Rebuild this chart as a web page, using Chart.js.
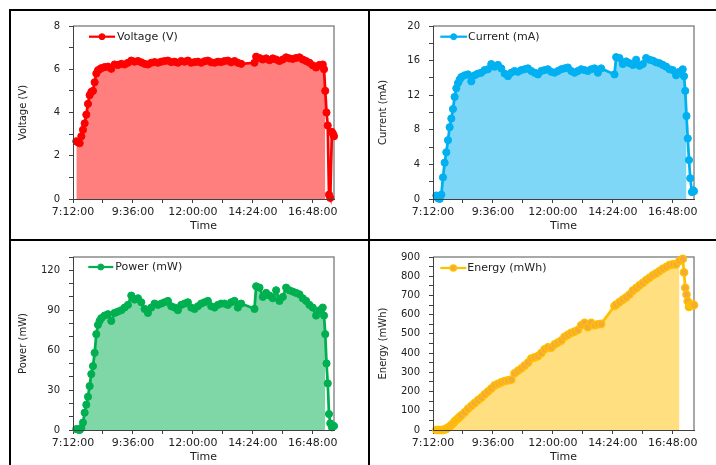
<!DOCTYPE html>
<html><head><meta charset="utf-8">
<script src="https://cdn.jsdelivr.net/npm/chart.js@4.4.1/dist/chart.umd.min.js"></script>
<style>
html,body{margin:0;padding:0;background:#fff;width:716px;height:465px;overflow:hidden;position:relative}
canvas{position:absolute}
.ln{position:absolute;background:#000;z-index:5}
</style></head><body>
<div class="ln" style="left:9px;top:9px;width:707px;height:2px"></div>
<div class="ln" style="left:9px;top:9px;width:2px;height:456px"></div>
<div class="ln" style="left:368px;top:9px;width:2px;height:456px"></div>
<div class="ln" style="left:9px;top:239px;width:707px;height:2px"></div>
<canvas id="cV" width="357" height="228" style="left:11px;top:11px"></canvas>
<canvas id="cI" width="357" height="228" style="left:371px;top:11px"></canvas>
<canvas id="cP" width="357" height="228" style="left:11px;top:242px"></canvas>
<canvas id="cE" width="357" height="228" style="left:371px;top:242px"></canvas>
<script>
// ---- data ----
const times = [
 '7:20','7:24','7:28','7:32','7:36','7:40','7:44','7:48','7:52','7:56','8:00','8:04','8:08','8:12','8:16','8:20',
 '8:28','8:36','8:44','8:52','9:00','9:08','9:16','9:24','9:32','9:40','9:48','9:56','10:04','10:12','10:20','10:28','10:36','10:44','10:52','11:00','11:08','11:16','11:24','11:32','11:40','11:48','11:56','12:04','12:12','12:20','12:28','12:36','12:44','12:52','13:00','13:08','13:16','13:24','13:32','13:40','13:48','13:56',
 '14:28','14:32','14:40','14:48','14:56','15:04','15:12','15:20','15:28','15:36','15:44','15:52','16:00','16:08','16:16','16:24','16:32','16:40','16:48','16:56','17:04','17:12',
 '17:15','17:18','17:21','17:24','17:27','17:30','17:34','17:37','17:39'
];
const voltage = [
 2.67,2.62,2.58,2.9,3.2,3.5,3.9,4.4,4.8,4.95,5.0,5.4,5.8,5.95,6.0,6.05,
 6.1,6.12,6.02,6.22,6.2,6.25,6.22,6.3,6.4,6.35,6.38,6.32,6.25,6.22,6.3,6.33,6.3,6.35,6.38,6.4,6.33,6.35,6.3,6.38,6.35,6.4,6.3,6.33,6.35,6.3,6.37,6.4,6.32,6.3,6.35,6.33,6.38,6.4,6.32,6.38,6.3,6.25,
 6.3,6.58,6.52,6.45,6.5,6.42,6.5,6.45,6.38,6.45,6.55,6.5,6.48,6.52,6.55,6.45,6.38,6.3,6.18,6.08,6.2,6.22,
 6.0,5.0,4.0,3.4,0.2,0.05,3.1,3.0,2.9
];
const current = [
 0.4,0.1,0.0,0.5,2.5,4.2,5.4,6.8,8.3,9.3,10.4,11.8,12.8,13.4,13.8,14.1,
 14.3,14.4,13.6,14.3,14.5,14.6,14.9,15.0,15.6,15.3,15.5,15.1,14.5,14.2,14.6,14.8,14.7,14.9,15.0,15.1,14.8,14.6,14.4,14.8,14.9,15.0,14.7,14.6,14.8,15.0,15.1,15.2,14.8,14.6,14.8,15.0,14.9,14.8,15.0,15.1,14.6,15.1,
 14.4,16.4,16.3,15.6,15.9,15.7,15.5,16.1,15.4,15.6,16.3,16.1,16.0,15.8,15.7,15.5,15.3,15.0,14.9,14.3,14.7,15.0,
 14.2,12.5,9.6,7.0,4.5,2.4,0.8,1.0,0.9
];
const power = [
 0.7,0.3,0,1.5,5.6,13,19,25,33,42,48,58,72,79,82,84,
 86,87,82,88,89,90,92,94,101,98,99,96,91,88,92,95,94,95,96,97,93,92,90,94,95,96,92,91,93,95,96,97,93,92,94,95,95,94,96,97,92,95,
 91,108,107,100,103,101,99,105,97,100,107,105,104,103,102,99,97,94,92,86,90,92,
 86,72,50,35,12,5,2,3,3
];
const energy = [
 0,0,0,0,0,3,6,12,18,26,34,45,53,60,68,76,
 92,110,125,140,155,168,185,200,215,232,240,248,255,258,262,295,308,320,335,350,372,378,384,400,420,430,428,445,455,465,485,495,505,512,520,545,558,535,558,545,550,552,
 645,652,665,678,690,705,725,738,752,765,780,792,805,815,826,838,848,858,862,862,880,890,
 820,740,705,670,640,650,648,652,650
];
// last reading included in each shaded area
const voltageAreaEnd = 81, currentAreaEnd = 82, powerAreaEnd = 81, energyAreaEnd = 78;
const timeTickLabels = ['7:12:00','9:36:00','12:00:00','14:24:00','16:48:00'];
const timeAxisEnd = '17:39';
const voltageTicks = [0,2,4,6,8];
const currentTicks = [0,4,8,12,16,20];
const powerTicks = [0,30,60,90,120];
const energyTicks = [0,100,200,300,400,500,600,700,800,900];

// ---- helpers ----
const toMin = s => { const p = s.split(':').map(Number); return p[0]*60 + p[1]; };
const fmtTime = v => { const h = Math.floor(v/60), m = Math.round(v - h*60); return h + ':' + String(m).padStart(2,'0') + ':00'; };

Chart.defaults.font.family = '"DejaVu Sans", sans-serif';
Chart.defaults.color = '#222222';

const plotFrame = {
  id: 'plotFrame',
  beforeDatasetsDraw(chart) {
    const {ctx, chartArea: a} = chart;
    ctx.save();
    ctx.strokeStyle = '#8c8c8c'; ctx.lineWidth = 1.5;
    ctx.beginPath(); ctx.moveTo(a.left, a.top); ctx.lineTo(a.right, a.top); ctx.lineTo(a.right, a.bottom); ctx.stroke();
    ctx.restore();
  }
};
const insideLegend = {
  id: 'insideLegend',
  afterDatasetsDraw(chart, args, o) {
    const {ctx, chartArea: a} = chart;
    const ds = chart.data.datasets[0];
    const y = a.top + o.dy, x1 = a.left + o.x1, x2 = a.left + o.x2;
    ctx.save();
    ctx.strokeStyle = ds.borderColor; ctx.lineWidth = 2.25;
    ctx.beginPath(); ctx.moveTo(x1, y); ctx.lineTo(x2, y); ctx.stroke();
    ctx.beginPath(); ctx.arc((x1 + x2)/2, y, 3, 0, Math.PI*2);
    ctx.fillStyle = ds.pointBackgroundColor; ctx.fill();
    ctx.lineWidth = ds.pointBorderWidth; ctx.strokeStyle = ds.pointBorderColor; ctx.stroke();
    ctx.font = '11px "DejaVu Sans"'; ctx.fillStyle = '#222222'; ctx.textBaseline = 'middle'; ctx.textAlign = 'left';
    ctx.fillText(ds.label, x2 + o.gap, y);
    ctx.restore();
  }
};

function makeChart(id, c) {
  const pts = c.values.map((v, i) => ({x: toMin(times[i]), y: v}));
  const axisCommon = {
    grid: {display: true, drawOnChartArea: false, drawTicks: true, tickLength: 4, tickColor: '#404040'},
    border: {display: true, color: '#404040', width: 1, z: 1}
  };
  return new Chart(document.getElementById(id), {
    type: 'line',
    data: {datasets: [
      {label: c.label, data: pts, borderColor: c.color, borderWidth: 2.75, pointRadius: 3.6,
       pointBackgroundColor: c.pointFill, pointBorderColor: c.color, pointBorderWidth: c.pbw,
       fill: false, tension: 0, clip: 8},
      {label: 'area', data: pts.slice(0, c.areaEnd + 1), borderColor: 'rgba(0,0,0,0)', borderWidth: 0,
       pointRadius: 0, backgroundColor: c.area, fill: 'origin', tension: 0}
    ]},
    options: {
      responsive: false, animation: false, devicePixelRatio: 1,
      events: [],
      layout: {padding: {left: 0, top: 9, right: 34, bottom: 0}},
      plugins: {legend: {display: false}, tooltip: {enabled: false}, insideLegend: c.legend},
      scales: {
        x: Object.assign({}, axisCommon, {
          type: 'linear', min: toMin(timeTickLabels[0]), max: toMin(timeAxisEnd),
          afterFit: s => { s.height = 40; },
          ticks: {stepSize: 72, autoSkip: false, maxRotation: 0, minRotation: 0, includeBounds: false, padding: 3,
                  font: {size: 11}, callback: v => { const s = fmtTime(v); return timeTickLabels.includes(s) ? s : ''; }},
          title: {display: true, text: 'Time', font: {size: 11}, padding: {top: 0, bottom: 6.4}}
        }),
        y: Object.assign({}, axisCommon, {
          min: 0, max: c.yMax,
          afterFit: s => { s.width = 62; },
          ticks: {stepSize: c.yStep, autoSkip: false, padding: 9, font: {size: 10},
                  callback: v => c.yLabels.includes(v) ? String(v) : ''},
          title: {display: true, text: c.yTitle, font: {size: 10}, padding: {top: 6, bottom: 0}}
        })
      }
    },
    plugins: [plotFrame, insideLegend]
  });
}

makeChart('cV', {values: voltage, areaEnd: voltageAreaEnd, label: 'Voltage (V)', yTitle: 'Voltage (V)',
  color: '#FF0000', pointFill: '#FF0000', pbw: 1, area: 'rgba(255,0,0,0.5)', yMax: 8, yStep: 1, yLabels: voltageTicks,
  legend: {x1: 16, x2: 42, dy: 10.7, gap: 2}});
makeChart('cI', {values: current, areaEnd: currentAreaEnd, label: 'Current (mA)', yTitle: 'Current (mA)',
  color: '#00B0F0', pointFill: '#00B0F0', pbw: 1, area: 'rgba(0,176,240,0.5)', yMax: 20, yStep: 2, yLabels: currentTicks,
  legend: {x1: 7.3, x2: 34, dy: 10.7, gap: 1}});
makeChart('cP', {values: power, areaEnd: powerAreaEnd, label: 'Power (mW)', yTitle: 'Power (mW)',
  color: '#00B050', pointFill: '#00B050', pbw: 1, area: 'rgba(0,176,80,0.5)', yMax: 130, yStep: 10, yLabels: powerTicks,
  legend: {x1: 15.3, x2: 40.3, dy: 10, gap: 2}});
makeChart('cE', {values: energy, areaEnd: energyAreaEnd, label: 'Energy (mWh)', yTitle: 'Energy (mWh)',
  color: '#FFC000', pointFill: '#F5A83C', pbw: 1.5, area: 'rgba(255,192,0,0.5)', yMax: 900, yStep: 50, yLabels: energyTicks,
  legend: {x1: 7.3, x2: 33.3, dy: 11, gap: 1}});
</script>
</body></html>
